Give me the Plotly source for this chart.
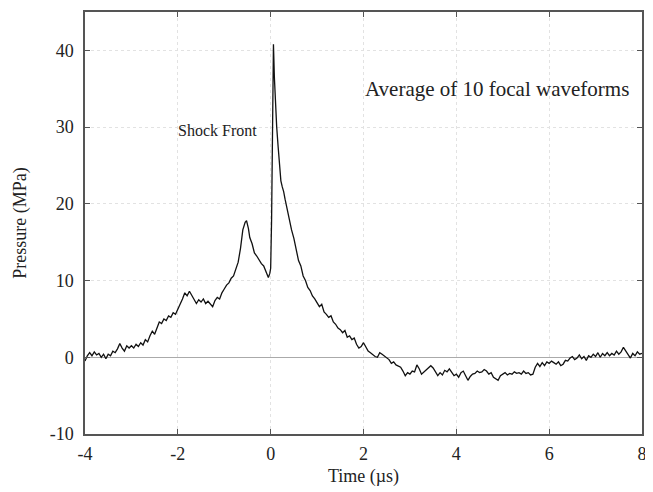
import plotly.graph_objects as go

# time (us) and pressure (MPa)
time_us = [
    -4.00, -3.95, -3.90, -3.85, -3.80, -3.75, -3.70, -3.65, -3.60, -3.55,
    -3.50, -3.45, -3.40, -3.35, -3.30, -3.25, -3.20, -3.15, -3.10, -3.05,
    -3.00, -2.95, -2.90, -2.85, -2.80, -2.75, -2.70, -2.65, -2.60, -2.55,
    -2.50, -2.45, -2.40, -2.35, -2.30, -2.25, -2.20, -2.15, -2.10, -2.05,
    -2.00, -1.95, -1.90, -1.85, -1.80, -1.75, -1.70, -1.65, -1.60, -1.55,
    -1.50, -1.45, -1.40, -1.35, -1.30, -1.25, -1.20, -1.15, -1.10, -1.05,
    -1.00, -0.95, -0.90, -0.85, -0.80, -0.75, -0.70, -0.65, -0.60, -0.55,
    -0.52, -0.48, -0.45, -0.40, -0.35, -0.30, -0.25, -0.20, -0.15, -0.10,
    -0.05, -0.02, 0.00, 0.02, 0.04, 0.06, 0.08, 0.10, 0.13, 0.16,
    0.19, 0.22, 0.25, 0.28, 0.31, 0.35, 0.40, 0.45, 0.50, 0.55,
    0.60, 0.65, 0.70, 0.75, 0.80, 0.85, 0.90, 0.95, 1.00, 1.05,
    1.10, 1.15, 1.20, 1.25, 1.30, 1.35, 1.40, 1.45, 1.50, 1.55,
    1.60, 1.65, 1.70, 1.75, 1.80, 1.85, 1.90, 1.95, 2.00, 2.05,
    2.10, 2.15, 2.20, 2.25, 2.30, 2.35, 2.40, 2.45, 2.50, 2.55,
    2.60, 2.65, 2.70, 2.75, 2.80, 2.85, 2.90, 2.95, 3.00, 3.05,
    3.10, 3.15, 3.20, 3.25, 3.30, 3.35, 3.40, 3.45, 3.50, 3.55,
    3.60, 3.65, 3.70, 3.75, 3.80, 3.85, 3.90, 3.95, 4.00, 4.05,
    4.10, 4.15, 4.20, 4.25, 4.30, 4.35, 4.40, 4.45, 4.50, 4.55,
    4.60, 4.65, 4.70, 4.75, 4.80, 4.85, 4.90, 4.95, 5.00, 5.05,
    5.10, 5.15, 5.20, 5.25, 5.30, 5.35, 5.40, 5.45, 5.50, 5.55,
    5.60, 5.65, 5.70, 5.75, 5.80, 5.85, 5.90, 5.95, 6.00, 6.05,
    6.10, 6.15, 6.20, 6.25, 6.30, 6.35, 6.40, 6.45, 6.50, 6.55,
    6.60, 6.65, 6.70, 6.75, 6.80, 6.85, 6.90, 6.95, 7.00, 7.05,
    7.10, 7.15, 7.20, 7.25, 7.30, 7.35, 7.40, 7.45, 7.50, 7.55,
    7.60, 7.65, 7.70, 7.75, 7.80, 7.85, 7.90, 7.95, 8.00,
]
pressure_mpa = [
    -0.5, 0.2, 0.6, 0.2, 0.7, 0.3, 0.5, 0.0, 0.4, -0.2,
    0.4, 0.2, 0.8, 0.6, 1.1, 1.8, 1.2, 0.8, 1.5, 1.2,
    1.5, 1.2, 1.7, 1.4, 1.9, 1.6, 2.3, 2.0, 2.8, 3.4,
    3.0, 3.9, 4.6, 4.4, 5.0, 4.8, 5.4, 5.2, 5.8, 5.6,
    6.2, 6.8, 7.6, 8.4, 8.0, 8.6, 8.1, 7.6, 7.0, 7.5,
    7.2, 7.6, 7.0, 7.3, 6.9, 6.6, 7.4, 7.8, 7.6, 8.4,
    8.9, 9.4, 9.7, 10.3, 10.6, 11.5, 12.4, 14.2, 16.6, 17.6,
    17.8, 16.8, 15.6, 14.8, 13.6, 13.2, 12.6, 12.2, 11.9, 11.2,
    10.4, 10.9, 11.6, 18.0, 32.0, 40.8, 36.5, 33.0, 30.0, 27.5,
    24.6, 23.0, 22.2, 21.6, 20.6, 19.4, 17.8, 16.6, 15.5, 13.8,
    12.6, 11.9, 10.6, 10.0, 9.1, 8.7, 8.0, 7.6, 7.1, 6.6,
    6.9, 5.9, 5.6, 5.2, 5.4, 4.6, 4.3, 3.8, 3.6, 3.2,
    3.5, 2.6, 2.8, 2.3, 2.5, 1.7, 1.2, 1.4, 1.9, 1.3,
    0.8, 0.6, 0.3, 0.1, 0.0, 0.6, 0.4, 0.2, -0.1, -0.3,
    -0.8, -0.6, -1.0, -1.2, -1.3, -1.8, -2.4, -2.0, -2.2, -1.8,
    -1.9, -1.0, -1.5, -2.2, -1.9, -1.7, -1.4, -1.1, -1.4, -2.0,
    -2.4, -2.0, -2.3, -1.7, -1.9, -1.5, -2.0, -2.4, -2.2, -2.6,
    -2.0, -1.8, -2.4, -3.0, -2.5, -2.2, -2.1, -1.8, -2.0, -1.9,
    -1.6, -1.8, -2.2, -2.0, -2.6, -2.8, -3.0, -2.4, -2.2, -2.0,
    -2.3, -2.1, -2.2, -1.9, -2.1, -2.0, -2.2, -1.8, -2.1, -2.0,
    -2.3, -2.2, -1.3, -0.8, -1.2, -0.7, -1.1, -0.6, -0.8, -0.5,
    -0.7, -0.9, -0.6, -1.1, -0.9, -0.4, -0.5, -0.1, 0.1, -0.3,
    -0.1, 0.3, -0.2, 0.1, -0.4, 0.2, 0.0, 0.4, 0.1, 0.6,
    0.0, 0.5, 0.2, 0.6, 0.2, 0.5, 0.3, 0.8, 0.4, 0.7,
    1.3, 0.8, 0.4, -0.1, 0.5, 0.2, 0.7, 0.4, 0.5,
]

x_ticks = [-4, -2, 0, 2, 4, 6, 8]
x_labels = ["-4", "-2", "0", "2", "4", "6", "8"]
y_ticks = [-10, 0, 10, 20, 30, 40]
y_labels = ["-10", "0", "10", "20", "30", "40"]

serif = "Liberation Serif, Times New Roman, serif"

fig = go.Figure()
fig.add_trace(go.Scatter(x=time_us, y=pressure_mpa, mode="lines",
                         line=dict(color="#111111", width=1.3),
                         showlegend=False))

axis_style = dict(
    showline=True, linecolor="#555555", linewidth=1.5, mirror="allticks",
    ticks="inside", ticklen=5, tickcolor="#555555", automargin=False,
    showgrid=True, gridcolor="#e2e2e2", griddash="dot", gridwidth=1,
    tickfont=dict(family=serif, size=18, color="#222222"),
)

fig.update_xaxes(range=[-4, 8], tickvals=x_ticks, ticktext=x_labels,
                 zeroline=False, ticklabelstandoff=3,
                 title=dict(text="Time (µs)", standoff=6,
                            font=dict(family=serif, size=18, color="#222222")),
                 **axis_style)
fig.update_yaxes(range=[-10, 45], tickvals=y_ticks, ticktext=y_labels,
                 zeroline=True, zerolinecolor="#aaaaaa", zerolinewidth=1.3,
                 ticklabelstandoff=6,
                 title=dict(text="Pressure (MPa)", standoff=18,
                            font=dict(family=serif, size=18, color="#222222")),
                 **axis_style)

fig.add_annotation(x=-1.15, y=29.5, text="Shock Front", showarrow=False,
                   font=dict(family=serif, size=16, color="#222222"))
fig.add_annotation(x=4.87, y=35.0, text="Average of 10 focal waveforms",
                   showarrow=False,
                   font=dict(family=serif, size=21, color="#222222"))

# the page body adds an 8px offset, so the figure is sized to fit the window
fig.update_layout(
    width=645, height=484,
    margin=dict(l=77, r=11, t=4, b=58),
    plot_bgcolor="white", paper_bgcolor="white",
)

fig.write_html("out.html")
